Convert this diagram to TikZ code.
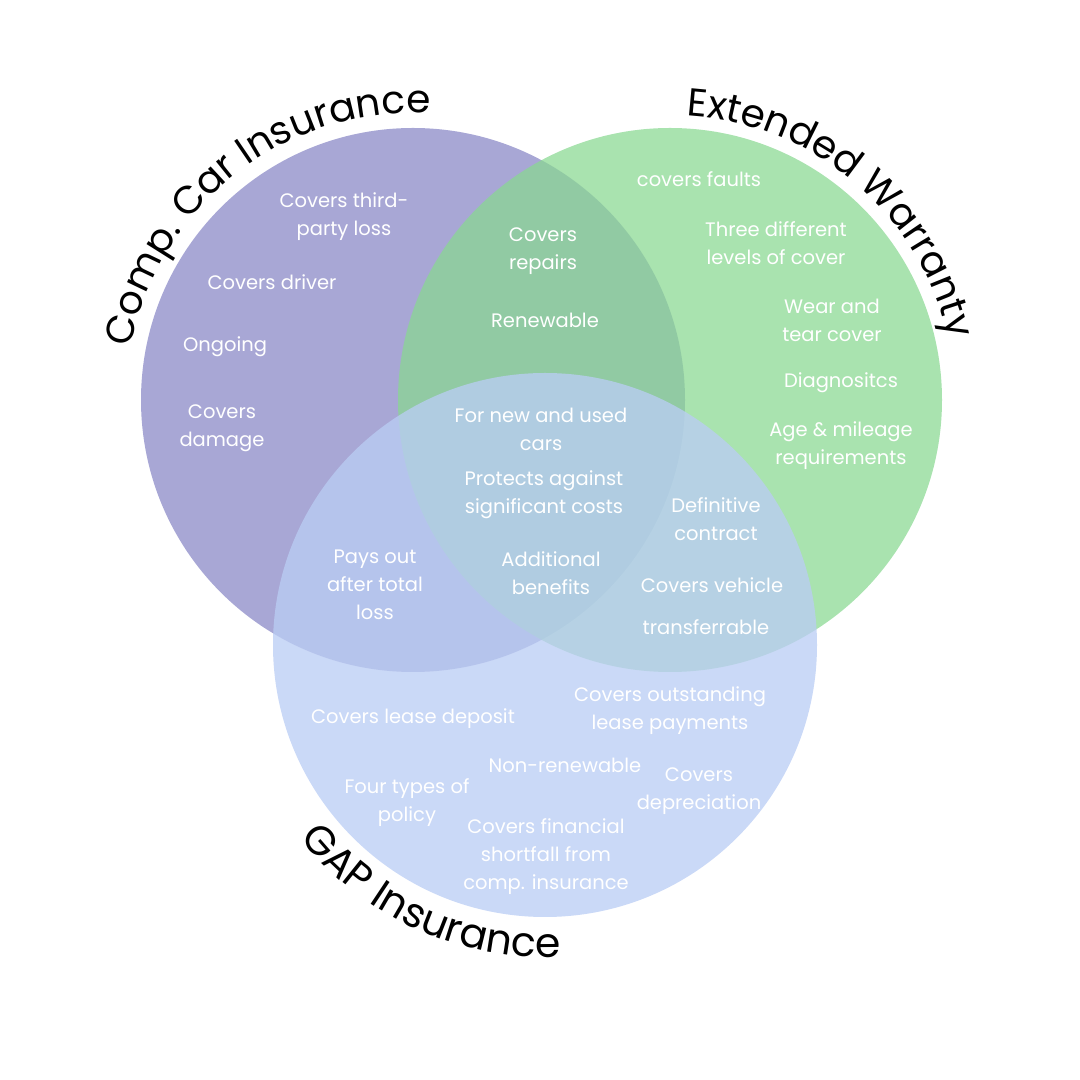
\documentclass[tikz,border=0pt]{standalone}
\usepackage{fontspec}
\setmainfont{Poppins}
\usepackage{tikz}
\usetikzlibrary{positioning}
\usetikzlibrary{decorations.text}
\definecolor{comppurple}{HTML}{A8A7D5}
\definecolor{warrgreen}{HTML}{89D891}
\definecolor{gapblue}{HTML}{BACDF4}
\newcommand{\titlefont}{\fontsize{39}{42}\selectfont}
\newcommand{\gaptitlefont}{\fontsize{41}{44}\selectfont}
\tikzset{%
	% Specifications for style of circles and texts:
	base/.style = {draw=none},
	comp/.style = {base, fill=comppurple},
	warr/.style = {base, fill=warrgreen, fill opacity=0.73},
	gap/.style = {base, fill=gapblue, fill opacity=0.77},
	item/.style = {text=white, align=center, yshift=-3, font=\fontsize{19.5}{28}\selectfont},
	title/.style = {decorate, decoration={text along path, text align=center, text={|\titlefont|#1}}},
	gaptitle/.style = {decorate, decoration={text along path, text align=center, text={|\gaptitlefont|#1}}},
}
\begin{document}
\begin{tikzpicture}[x=1pt,y=1pt]
		\useasboundingbox (0,0) rectangle (1080,1080);
		\coordinate (CP) at (413,680);
		\coordinate (CW) at (670,680);
		\coordinate (CG) at (545,435);
		
		\fill [comp] (CP) circle[radius=272];
		\fill [warr] (CW) circle[radius=272];
		\fill [gap] (CG) circle[radius=272];
		
		\path [title=Comp. Car Insurance] ([shift={(178:287)}]CP) arc[start angle=178, end angle=78, radius=287];
		\path [title=Extended Warranty] ([shift={(100:285)}]CW) arc[start angle=100, end angle=-1, radius=285];
		\path [gaptitle=GAP Insurance] ([shift={(195:312)}]CG) arc[start angle=195, end angle=296, radius=312];
		
		\node (Third) [item] at (344,866) {Covers third-\\party loss};
		\node (Driver) [item] at (272,801) {Covers driver};
		\node (Ongoing) [item] at (225,736) {Ongoing};
		\node (Damage) [item] at (222,655) {Covers\\damage};
		
		\node (Repairs) [item] at (543,832) {Covers\\repairs};
		\node (Renew) [item] at (545,763) {Renewable};
		
		\node (Faults) [item] at (699,904) {covers faults};
		\node (Levels) [item] at (776,840) {Three different\\levels of cover};
		\node (Wear) [item] at (832,763) {Wear and\\tear cover};
		\node (Diag) [item] at (841,700) {Diagnositcs};
		\node (Age) [item] at (841,637) {Age \& mileage\\requirements};
		
		\node (NewUsed) [item] at (541,654) {For new and used\\cars};
		\node (Protects) [item] at (544,588) {Protects against\\significant costs};
		\node (Benefits) [item] at (551,510) {Additional\\benefits};
		
		\node (Contract) [item] at (716,564) {Definitive\\contract};
		\node (Vehicle) [item] at (712,498) {Covers vehicle};
		\node (Transfer) [item] at (706,456) {transferrable};
		
		\node (TotalLoss) [item] at (375,498) {Pays out\\after total\\loss};
		
		\node (Deposit) [item] at (413,364) {Covers lease deposit};
		\node (Outstanding) [item] at (670,372) {Covers outstanding\\lease payments};
		\node (NonRenew) [item] at (565,318) {Non-renewable};
		\node (Deprec) [item] at (699,292) {Covers\\depreciation};
		\node (Policy) [item] at (407,280) {Four types of\\policy};
		\node (Shortfall) [item] at (546,226) {Covers financial\\shortfall from\\comp. insurance};
		
     \end{tikzpicture}
\end{document}
